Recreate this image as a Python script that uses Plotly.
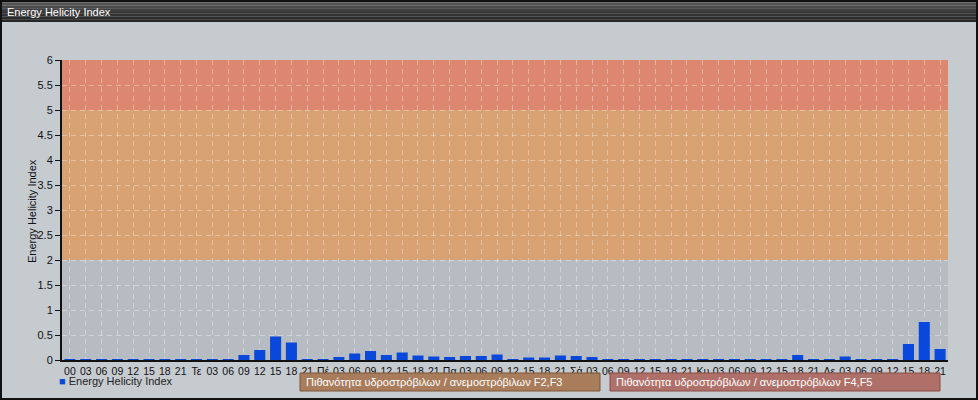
import plotly.graph_objects as go

hours = ["00", "03", "06", "09", "12", "15", "18", "21"]
day_labels = ["00", "Τε", "Πέ", "Πα", "Σά", "Κυ", "Δε"]
tick_labels = []
for d in day_labels:
    tick_labels.append(d)
    tick_labels.extend(hours[1:])

values = [
    0.02, 0.02, 0.02, 0.02, 0.02, 0.02, 0.02, 0.02,
    0.02, 0.02, 0.02, 0.10, 0.20, 0.47, 0.35, 0.02,
    0.02, 0.06, 0.13, 0.18, 0.10, 0.15, 0.09, 0.07,
    0.06, 0.08, 0.08, 0.11, 0.02, 0.05, 0.05, 0.09,
    0.08, 0.06, 0.02, 0.02, 0.02, 0.02, 0.02, 0.02,
    0.02, 0.02, 0.02, 0.02, 0.02, 0.02, 0.10, 0.02,
    0.02, 0.07, 0.02, 0.02, 0.02, 0.32, 0.76, 0.22,
]
y_ticks = [0, 0.5, 1, 1.5, 2, 2.5, 3, 3.5, 4, 4.5, 5, 5.5, 6]
y_tick_text = ["0", "0.5", "1", "1.5", "2", "2.5", "3", "3.5", "4", "4.5", "5", "5.5", "6"]
bands = [(2, 5, "#d9a273"), (5, 6, "#de8770")]
band_labels = ["Πιθανότητα υδροστρόβιλων / ανεμοστρόβιλων F2,F3",
               "Πιθανότητα υδροστρόβιλων / ανεμοστρόβιλων F4,F5"]
title_text = "Energy Helicity Index"
series_name = "Energy Helicity Index"
y_title = "Energy Helicity Index"
bar_color = "#0a48dc"

W, H = 978, 400
L, R, T, B = 62, 30, 60, 40
PW, PH = W - L - R, H - T - B


def px(x):
    return (x - L) / PW


def py(y):
    return (H - B - y) / PH


x = list(range(len(values)))
FONT = "Liberation Sans, Arial, sans-serif"

fig = go.Figure()
fig.add_trace(go.Bar(
    x=x, y=values, name=series_name,
    marker=dict(color=bar_color, line=dict(width=0)),
    width=0.7, showlegend=False,
))

shapes = []
for y0, y1, c in bands:
    shapes.append(dict(type="rect", xref="x", yref="y", x0=-0.5, x1=len(values) - 0.5,
                       y0=y0, y1=y1, fillcolor=c, line=dict(width=0), layer="below"))
grad = ["#5e5e5e", "#545454", "#4a4a4a", "#414141", "#393939", "#323232", "#2c2c2c", "#272727"]
n = len(grad)
for i, c in enumerate(grad):
    shapes.append(dict(type="rect", xref="paper", yref="paper",
                       x0=px(0), x1=px(W), y0=py(22 * (i + 1) / n), y1=py(22 * i / n),
                       fillcolor=c, line=dict(width=0), layer="below"))
shapes.append(dict(type="rect", xref="paper", yref="paper",
                   x0=px(1), x1=px(W - 1), y0=py(H - 1), y1=py(1),
                   line=dict(color="#111111", width=2), fillcolor="rgba(0,0,0,0)", layer="above"))
boxes = [(300, 600, "#a97c5b", "#7d5537"), (610, 940, "#b0706a", "#8a4a44")]
annotations = []
for (x0, x1, fc, lc), txt in zip(boxes, band_labels):
    shapes.append(dict(type="rect", xref="paper", yref="paper",
                       x0=px(x0), x1=px(x1), y0=py(391), y1=py(373),
                       fillcolor=fc, line=dict(color=lc, width=1), layer="above"))
    annotations.append(dict(xref="paper", yref="paper", x=px(x0 + 4), y=py(382),
                            xanchor="left", yanchor="middle", text=txt, showarrow=False,
                            font=dict(family=FONT, size=11, color="white")))
annotations.append(dict(xref="paper", yref="paper", x=px(5), y=py(12),
                        xanchor="left", yanchor="middle", text=title_text, showarrow=False,
                        font=dict(family=FONT, size=11, color="white")))
annotations.append(dict(xref="paper", yref="paper", x=px(57), y=py(381),
                        xanchor="left", yanchor="middle",
                        text=f'<span style="color:{bar_color}">■</span> {series_name}',
                        showarrow=False,
                        font=dict(family=FONT, size=11, color="#222222")))
annotations.append(dict(xref="paper", yref="paper", x=px(32), y=py(211),
                        xanchor="center", yanchor="middle", textangle=-90,
                        text=y_title, showarrow=False,
                        font=dict(family=FONT, size=11, color="#111111")))

fig.update_layout(
    width=W, height=H,
    margin=dict(l=L, r=R, t=T, b=B),
    paper_bgcolor="#c6cbd0",
    plot_bgcolor="#b7bcc2",
    font=dict(family=FONT, size=11, color="#222222"),
    shapes=shapes,
    annotations=annotations,
    showlegend=False,
    xaxis=dict(
        range=[-0.5, len(values) - 0.5],
        tickmode="array", tickvals=x, ticktext=tick_labels,
        tickangle=0,
        showgrid=True, gridcolor="rgba(255,255,255,0.35)", griddash="5px,4px", gridwidth=1,
        showline=True, linecolor="#111111", linewidth=2,
        ticks="", ticklen=0, zeroline=False,
        tickfont=dict(family=FONT, size=10.5, color="#111111"),
    ),
    yaxis=dict(
        range=[0, 6],
        tickmode="array", tickvals=y_ticks, ticktext=y_tick_text,
        showgrid=True, gridcolor="rgba(255,255,255,0.35)", griddash="5px,4px", gridwidth=1,
        showline=True, linecolor="#111111", linewidth=2,
        ticks="outside", ticklen=5, tickcolor="#111111", zeroline=False,
        tickfont=dict(family=FONT, size=11, color="#111111"),
    ),
)

fig.write_html("out.html", config={"displayModeBar": False},
               post_script="document.body.style.margin='0';document.body.style.overflow='hidden';")
